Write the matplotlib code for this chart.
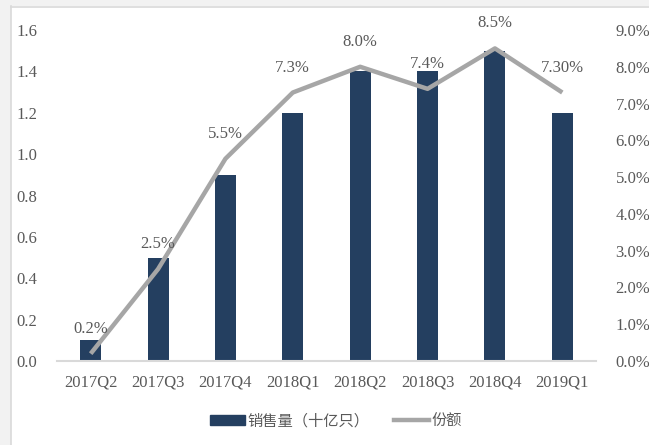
import matplotlib
matplotlib.use("Agg")
import matplotlib.pyplot as plt
from matplotlib.patches import Rectangle
from matplotlib.lines import Line2D
from matplotlib.ticker import FuncFormatter, MultipleLocator

quarters = ["2017Q2", "2017Q3", "2017Q4", "2018Q1", "2018Q2", "2018Q3", "2018Q4", "2019Q1"]
sales = [0.1, 0.5, 0.9, 1.2, 1.4, 1.4, 1.5, 1.2]          # 十亿只
share = [0.2, 2.5, 5.5, 7.3, 8.0, 7.4, 8.5, 7.3]          # %
share_labels = ["0.2%", "2.5%", "5.5%", "7.3%", "8.0%", "7.4%", "8.5%", "7.30%"]
legend_labels = ["销售量（十亿只）", "份额"]

BAR = "#243f60"
LINE = "#a6a6a6"
TXT = "#595959"
SERIF = ["Liberation Serif", "DejaVu Serif"]
CJK = ["Noto Sans CJK SC", "DejaVu Sans"]

fig = plt.figure(figsize=(6.49, 4.45), dpi=100)
fig.patch.set_facecolor("white")

# outer frame strip (top/left) with thin border
W, H = 649, 445
fig.patches.append(Rectangle((0, 0), 10.5 / W, 1, transform=fig.transFigure,
                             facecolor="#f2f2f2", edgecolor="none", zorder=0))
fig.patches.append(Rectangle((0, 1 - 6 / H), 1, 6 / H, transform=fig.transFigure,
                             facecolor="#f2f2f2", edgecolor="none", zorder=0))
fig.add_artist(Line2D([11 / W, 11 / W], [0, 1 - 6 / H], transform=fig.transFigure,
                      color="#d9d9d9", lw=1.2))
fig.add_artist(Line2D([11 / W, 1], [1 - 6.5 / H, 1 - 6.5 / H], transform=fig.transFigure,
                      color="#d9d9d9", lw=1.2))

ax = fig.add_axes([57 / W, 1 - 361 / H, (596 - 57) / W, (361 - 30) / H])
ax2 = ax.twinx()

x = list(range(len(quarters)))
ax.bar(x, sales, width=0.31, color=BAR, zorder=2)
ax.set_xlim(-0.5, 7.5)
ax.set_ylim(0, 1.6)
ax.yaxis.set_major_locator(MultipleLocator(0.2))
ax.yaxis.set_major_formatter(FuncFormatter(lambda v, p: f"{v:.1f}"))
ax.set_xticks(x)
ax.set_xticklabels(quarters)

share_frac = [s / 100 for s in share]
ax2.plot(x, share_frac, color=LINE, lw=3.2, zorder=3, solid_capstyle="butt")
ax2.set_ylim(0, 0.09)
ax2.yaxis.set_major_locator(MultipleLocator(0.01))
ax2.yaxis.set_major_formatter(FuncFormatter(lambda v, p: f"{v * 100:.1f}%"))

for xi, yi, lab in zip(x, share_frac, share_labels):
    ax2.annotate(lab, (xi, yi), xytext=(0, 18), textcoords="offset points",
                 ha="center", va="center", fontsize=12, color=TXT, family=SERIF)

for a in (ax, ax2):
    for s in a.spines.values():
        s.set_visible(False)
    a.tick_params(length=0, colors=TXT, labelsize=12)
    for t in a.get_xticklabels() + a.get_yticklabels():
        t.set_family(SERIF)
ax.spines["bottom"].set_visible(True)
ax.spines["bottom"].set_color("#d9d9d9")
ax.spines["bottom"].set_linewidth(1.5)
ax.tick_params(axis="y", pad=14)
ax.tick_params(axis="x", pad=10)
ax2.tick_params(axis="y", pad=14)
ax2.set_zorder(ax.get_zorder() + 1)
ax2.patch.set_visible(False)

handles = [Rectangle((0, 0), 1, 1, color=BAR), Line2D([], [], color=LINE, lw=3.2)]
leg = fig.legend(handles, legend_labels, loc="center", bbox_to_anchor=(336 / W, 1 - 421 / H),
                 ncol=2, frameon=False, handlelength=2.3, handleheight=0.55,
                 handletextpad=0.15, columnspacing=1.6,
                 prop={"family": CJK, "size": 11})
for t in leg.get_texts():
    t.set_color(TXT)

fig.savefig("out.png", dpi=100)
